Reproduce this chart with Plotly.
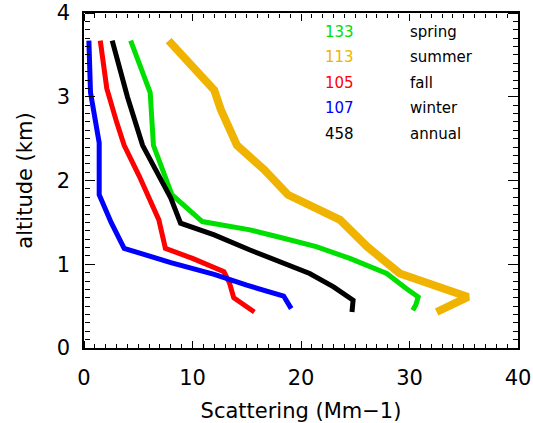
import plotly.graph_objects as go

# Data (scattering Mm-1, altitude km)
spring_x = [4.3, 6.1, 6.4, 8.1, 10.9, 15.3, 18.4, 21.4, 24.5, 27.9, 29.7, 30.8, 30.6, 30.3]
spring_y = [3.67, 3.05, 2.42, 1.83, 1.51, 1.41, 1.31, 1.21, 1.07, 0.89, 0.71, 0.61, 0.52, 0.45]

summer_x = [7.8, 10.0, 12.0, 12.6, 14.1, 16.6, 18.8, 23.6, 26.1, 29.1, 35.4, 32.5]
summer_y = [3.67, 3.35, 3.08, 2.85, 2.42, 2.13, 1.83, 1.53, 1.21, 0.89, 0.61, 0.43]

fall_x = [1.5, 2.1, 3.0, 3.7, 5.1, 6.9, 7.5, 10.0, 12.9, 13.4, 13.8, 15.7]
fall_y = [3.67, 3.10, 2.70, 2.42, 2.05, 1.53, 1.19, 1.07, 0.91, 0.78, 0.60, 0.43]

winter_x = [0.45, 0.6, 1.4, 1.4, 2.5, 3.7, 8.0, 12.0, 15.0, 17.0, 18.4, 19.1]
winter_y = [3.67, 3.05, 2.45, 1.83, 1.50, 1.19, 1.02, 0.88, 0.75, 0.68, 0.62, 0.47]

annual_x = [2.6, 4.0, 5.4, 8.0, 8.9, 12.0, 15.3, 18.4, 20.8, 23.0, 24.6, 24.8, 24.7]
annual_y = [3.67, 3.0, 2.42, 1.79, 1.49, 1.35, 1.17, 1.01, 0.89, 0.73, 0.60, 0.57, 0.43]

legend_counts = ["133", "113", "105", "107", "458"]
legend_names = ["spring", "summer", "fall", "winter", "annual"]
legend_alt = [3.77, 3.47, 3.17, 2.87, 2.56]

GREEN = "#00e000"
ORANGE = "#f0b400"
RED = "#ff0000"
BLUE = "#0000ff"
BLACK = "#000000"
colors = [GREEN, ORANGE, RED, BLUE, BLACK]

series = [
    (spring_x, spring_y, GREEN, 5),
    (summer_x, summer_y, ORANGE, 8),
    (fall_x, fall_y, RED, 5),
    (winter_x, winter_y, BLUE, 5),
    (annual_x, annual_y, BLACK, 5),
]

X_RANGE = [0, 40]
Y_RANGE = [0, 4]

fig = go.Figure()
for (xs, ys, c, w), name in zip(series, legend_names):
    fig.add_trace(go.Scatter(x=xs, y=ys, mode="lines", name=name,
                             line=dict(color=c, width=w), showlegend=False))

# empty traces so that the tick-only overlay axes are created
for xa, ya in [("x2", "y"), ("x3", "y"), ("x", "y2"), ("x", "y3")]:
    fig.add_trace(go.Scatter(x=[None], y=[None], xaxis=xa, yaxis=ya, mode="lines",
                             showlegend=False, hoverinfo="skip"))

font = "DejaVu Sans"
for cnt, nm, yy, c in zip(legend_counts, legend_names, legend_alt, colors):
    fig.add_annotation(x=22.0, y=yy, xref="x", yref="y", text=cnt, showarrow=False,
                       xanchor="left", yanchor="middle",
                       font=dict(family=font, size=15, color=c))
    fig.add_annotation(x=29.9, y=yy, xref="x", yref="y", text=nm, showarrow=False,
                       xanchor="left", yanchor="middle",
                       font=dict(family=font, size=15, color="black"))


def x_tick_axis(position, side):
    # outside ticks on an axis placed on the opposite edge point into the plot
    return dict(overlaying="x", anchor="free", position=position, side=side,
                range=X_RANGE, tickmode="linear", tick0=0, dtick=10,
                ticks="outside", ticklen=7, tickwidth=1.2, tickcolor="black",
                minor=dict(ticks="outside", dtick=1, ticklen=4, tickwidth=1,
                           tickcolor="black", showgrid=False),
                showticklabels=False, showline=False, showgrid=False,
                zeroline=False, automargin=False, fixedrange=True)


def y_tick_axis(position, side):
    return dict(overlaying="y", anchor="free", position=position, side=side,
                range=Y_RANGE, tickmode="linear", tick0=0, dtick=1,
                ticks="outside", ticklen=10, tickwidth=1.2, tickcolor="black",
                minor=dict(ticks="outside", dtick=0.1, ticklen=5, tickwidth=1,
                           tickcolor="black", showgrid=False),
                showticklabels=False, showline=False, showgrid=False,
                zeroline=False, automargin=False, fixedrange=True)


fig.update_layout(
    template="none",
    width=533, height=423,
    margin=dict(l=84, r=15, t=13, b=75, autoexpand=False),
    paper_bgcolor="white", plot_bgcolor="white",
    font=dict(family=font, size=21, color="black"),
    xaxis=dict(
        range=X_RANGE, tickmode="linear", tick0=0, dtick=10,
        showline=True, linecolor="black", linewidth=1.5, mirror=True,
        ticks="", showgrid=False, zeroline=False, automargin=False,
        ticklabelstandoff=10,
        title=dict(text="Scattering (Mm\u22121)", font=dict(size=21)),
    ),
    yaxis=dict(
        range=Y_RANGE, tickmode="linear", tick0=0, dtick=1,
        showline=True, linecolor="black", linewidth=1.5, mirror=True,
        ticks="", showgrid=False, zeroline=False, automargin=False,
        ticklabelstandoff=8,
        title=dict(text="altitude (km)", font=dict(size=21)),
    ),
    xaxis2=x_tick_axis(0, "top"),
    xaxis3=x_tick_axis(1, "bottom"),
    yaxis2=y_tick_axis(0, "right"),
    yaxis3=y_tick_axis(1, "left"),
)

fig.write_html("out.html")
